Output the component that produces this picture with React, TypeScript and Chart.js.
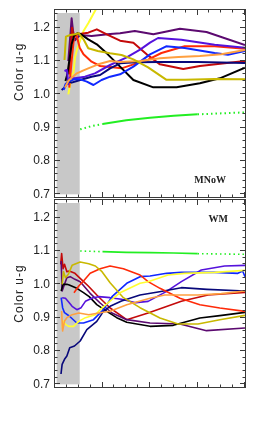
import React, { useEffect, useRef } from "react";
import { Chart, registerables } from "chart.js";

Chart.register(...registerables);

type Pt = [number, number];

// ---------- axes ----------
const X_RANGE: [number, number] = [0, 4];
const Y_RANGE: [number, number] = [0.692, 1.253];
const xMajorTicks = [0, 1, 2, 3, 4];
const xMinorTicks = [0.25, 0.5, 0.75, 1.25, 1.5, 1.75, 2.25, 2.5, 2.75, 3.25, 3.5, 3.75];
const yTickLabels = [0.7, 0.8, 0.9, 1.0, 1.1, 1.2];
const yMinorStep = 0.02;
const yTitle = "Color u-g";
const bandX: [number, number] = [0.035, 0.52];
const bandY: [number, number] = [0.7, 1.244];

// ---------- top panel (MNoW) ----------
const topLabel = "MNoW";
const topPurple: Pt[] = [[0.28,1.10],[0.33,1.19],[0.35,1.228],[0.38,1.19],[0.42,1.162],[0.47,1.17],[0.53,1.178],[0.77,1.175],[1.16,1.181],[1.37,1.183],[1.68,1.19],[2.07,1.18],[2.63,1.197],[3.19,1.187],[4.0,1.148]];
const topDarkRed: Pt[] = [[0.3,1.06],[0.33,1.14],[0.36,1.2],[0.39,1.17],[0.45,1.18],[0.55,1.182],[0.7,1.185],[0.88,1.195],[1.09,1.18],[1.37,1.161],[1.65,1.155],[1.93,1.12],[2.21,1.09],[2.7,1.076],[3.05,1.085],[4.0,1.1]];
const topRed: Pt[] = [[0.3,1.02],[0.35,1.1],[0.4,1.17],[0.45,1.18],[0.52,1.14],[0.6,1.12],[0.77,1.098],[0.95,1.085],[1.16,1.082],[1.4,1.078],[1.7,1.092],[1.96,1.104],[2.24,1.124],[2.73,1.144],[3.36,1.144],[4.0,1.137]];
const topBlack: Pt[] = [[0.22,1.04],[0.26,1.06],[0.3,1.1],[0.35,1.15],[0.4,1.175],[0.47,1.183],[0.55,1.18],[0.7,1.165],[0.88,1.15],[1.09,1.123],[1.37,1.083],[1.65,1.043],[2.07,1.021],[2.56,1.021],[3.05,1.033],[3.47,1.048],[4.0,1.08]];
const topYellow: Pt[] = [[0.28,1.0],[0.32,1.03],[0.35,1.06],[0.39,1.065],[0.42,1.11],[0.46,1.133],[0.5,1.15],[0.6,1.19],[0.7,1.213],[0.88,1.26]];
const topOlive: Pt[] = [[0.2,1.103],[0.23,1.173],[0.32,1.178],[0.42,1.18],[0.5,1.183],[0.6,1.165],[0.7,1.138],[0.9,1.13],[1.16,1.123],[1.4,1.118],[1.65,1.105],[1.96,1.081],[2.34,1.044],[2.73,1.044],[3.36,1.046],[4.0,1.045]];
const topOrange: Pt[] = [[0.21,1.02],[0.28,1.04],[0.35,1.05],[0.46,1.063],[0.6,1.072],[0.7,1.078],[0.91,1.09],[1.16,1.1],[1.37,1.097],[1.8,1.1],[2.21,1.108],[2.6,1.112],[3.05,1.115],[3.5,1.12],[4.0,1.133]];
const topBlueViolet: Pt[] = [[0.2,1.07],[0.25,1.073],[0.28,1.03],[0.32,1.05],[0.42,1.048],[0.63,1.053],[0.84,1.063],[1.16,1.088],[1.5,1.11],[1.8,1.135],[2.0,1.155],[2.17,1.169],[2.66,1.164],[3.36,1.149],[4.0,1.14]];
const topNavy: Pt[] = [[0.14,1.013],[0.2,1.02],[0.28,1.04],[0.35,1.035],[0.53,1.043],[0.77,1.053],[0.95,1.058],[1.16,1.078],[1.37,1.093],[1.7,1.096],[2.2,1.097],[3.0,1.097],[4.0,1.094]];
const topBlue: Pt[] = [[0.18,1.013],[0.22,1.03],[0.28,1.038],[0.4,1.045],[0.53,1.045],[0.67,1.038],[0.81,1.028],[0.98,1.043],[1.16,1.053],[1.37,1.06],[1.65,1.083],[2.0,1.12],[2.34,1.144],[2.73,1.139],[3.36,1.124],[3.64,1.119],[4.0,1.13]];
const topGreen: Pt[] = [[0.53,0.895],[0.75,0.904],[1.0,0.911],[1.5,0.922],[2.0,0.93],[2.5,0.936],[3.0,0.94],[3.5,0.943],[4.0,0.946]];

// ---------- bottom panel (WM) ----------
const botLabel = "WM";
const botBlack: Pt[] = [[0.13,0.98],[0.17,1.0],[0.25,1.0],[0.3,0.998],[0.46,0.988],[0.6,0.975],[0.72,0.963],[0.88,0.939],[1.09,0.919],[1.3,0.9],[1.51,0.886],[2.0,0.874],[2.49,0.877],[3.05,0.899],[3.47,0.906],[4.0,0.916]];
const botNavy: Pt[] = [[0.126,0.731],[0.15,0.76],[0.2,0.775],[0.25,0.785],[0.31,0.81],[0.41,0.815],[0.53,0.83],[0.67,0.864],[0.88,0.889],[1.02,0.919],[1.16,0.934],[1.4,0.95],[1.79,0.968],[2.2,0.978],[2.66,0.99],[3.2,0.985],[4.0,0.98]];
const botBlue: Pt[] = [[0.13,0.96],[0.16,0.93],[0.2,0.915],[0.3,0.905],[0.46,0.884],[0.6,0.884],[0.81,0.894],[1.02,0.924],[1.2,0.963],[1.51,1.003],[1.79,1.023],[2.0,1.025],[2.35,1.033],[2.66,1.036],[3.36,1.036],[3.85,1.033],[3.95,1.04],[4.0,1.023]];
const botBlueViolet: Pt[] = [[0.15,0.96],[0.22,0.958],[0.3,0.945],[0.36,0.934],[0.46,0.924],[0.55,0.93],[0.64,0.949],[0.8,0.96],[0.92,0.963],[1.16,0.96],[1.4,0.955],[1.7,0.945],[1.96,0.949],[2.34,0.978],[2.66,1.008],[3.08,1.043],[3.57,1.055],[4.0,1.057]];
const botPurple: Pt[] = [[0.13,1.07],[0.15,0.98],[0.2,1.0],[0.25,1.02],[0.32,1.023],[0.42,1.015],[0.53,1.008],[0.74,0.973],[0.95,0.944],[1.2,0.914],[1.51,0.894],[2.0,0.884],[2.63,0.881],[3.19,0.861],[4.0,0.869]];
const botDarkRed: Pt[] = [[0.12,1.06],[0.14,1.092],[0.17,1.047],[0.2,1.06],[0.25,1.038],[0.3,1.04],[0.42,1.033],[0.53,1.018],[0.7,0.995],[0.88,0.968],[1.16,0.929],[1.51,0.894],[1.96,0.914],[2.66,0.949],[3.22,0.968],[4.0,0.976]];
const botRed: Pt[] = [[0.4,0.975],[0.5,0.995],[0.6,1.01],[0.74,1.033],[0.95,1.047],[1.16,1.055],[1.44,1.047],[1.79,1.028],[1.96,1.008],[2.21,0.988],[2.63,0.958],[3.05,0.939],[3.47,0.929],[4.0,0.919]];
const botOlive: Pt[] = [[0.15,1.0],[0.18,1.038],[0.22,1.02],[0.28,1.03],[0.36,1.057],[0.53,1.067],[0.71,1.062],[0.85,1.055],[0.99,1.038],[1.16,1.005],[1.44,0.96],[1.79,0.93],[2.21,0.899],[2.59,0.881],[3.01,0.881],[3.47,0.894],[4.0,0.907]];
const botYellow: Pt[] = [[0.15,0.87],[0.17,0.89],[0.22,0.88],[0.29,0.874],[0.39,0.874],[0.5,0.889],[0.64,0.9],[0.85,0.909],[1.0,0.93],[1.2,0.955],[1.37,0.975],[1.79,1.003],[1.96,1.008],[2.38,1.028],[2.73,1.033],[3.36,1.036],[4.0,1.042]];
const botOrange: Pt[] = [[0.14,0.92],[0.16,0.86],[0.2,0.89],[0.25,0.9],[0.36,0.909],[0.5,0.914],[0.71,0.909],[0.92,0.914],[1.16,0.919],[1.51,0.939],[2.0,0.958],[2.31,0.968],[3.0,0.968],[3.5,0.972],[4.0,0.98]];
const botGreen: Pt[] = [[0.53,1.1],[1.0,1.098],[1.5,1.096],[2.0,1.095],[2.5,1.094],[3.0,1.092],[3.5,1.091],[4.0,1.09]];
const greenSolidRange: [number, number] = [1.0, 3.0];

const COLORS = {
  black: "#000000",
  navy: "#08087a",
  blue: "#1028ff",
  blueViolet: "#5512dc",
  purple: "#5c0a70",
  darkRed: "#c40a0a",
  red: "#ff2a08",
  orange: "#ffa040",
  yellow: "#ffff30",
  olive: "#c8b800",
  green: "#22ee22",
};

type Series = { data: Pt[]; color: string; dotted?: boolean };

const topSeries: Series[] = [
  { data: topGreen, color: COLORS.green, dotted: true },
  { data: topOlive, color: COLORS.olive },
  { data: topOrange, color: COLORS.orange },
  { data: topBlue, color: COLORS.blue },
  { data: topNavy, color: COLORS.navy },
  { data: topBlueViolet, color: COLORS.blueViolet },
  { data: topBlack, color: COLORS.black },
  { data: topRed, color: COLORS.red },
  { data: topDarkRed, color: COLORS.darkRed },
  { data: topPurple, color: COLORS.purple },
  { data: topYellow, color: COLORS.yellow },
];

const botSeries: Series[] = [
  { data: botGreen, color: COLORS.green, dotted: true },
  { data: botOrange, color: COLORS.orange },
  { data: botYellow, color: COLORS.yellow },
  { data: botOlive, color: COLORS.olive },
  { data: botRed, color: COLORS.red },
  { data: botNavy, color: COLORS.navy },
  { data: botBlue, color: COLORS.blue },
  { data: botBlueViolet, color: COLORS.blueViolet },
  { data: botBlack, color: COLORS.black },
  { data: botPurple, color: COLORS.purple },
  { data: botDarkRed, color: COLORS.darkRed },
];

const framePlugin = {
  id: "frame",
  beforeDatasetsDraw(chart: any) {
    const { ctx, scales } = chart;
    const x = scales.x, y = scales.y;
    const x0 = x.getPixelForValue(bandX[0]);
    const x1 = x.getPixelForValue(bandX[1]);
    const y0 = y.getPixelForValue(bandY[1]);
    const y1 = y.getPixelForValue(bandY[0]);
    ctx.save();
    ctx.fillStyle = "#c8c8c8";
    ctx.fillRect(x0, y0, x1 - x0, y1 - y0);
    ctx.restore();
  },
  afterDraw(chart: any, _args: any, opts: any) {
    const { ctx, chartArea, scales } = chart;
    const x = scales.x, y = scales.y;
    const { left, right, top, bottom } = chartArea;
    ctx.save();
    ctx.strokeStyle = "#3a3a3a";
    ctx.lineWidth = 1;
    ctx.strokeRect(left - 0.5, top - 0.5, right - left + 1, bottom - top + 1);
    ctx.beginPath();
    const majLen = 5, minLen = 2.5;
    // x ticks (bottom upward, top downward)
    const xt = (v: number, len: number) => {
      const px = Math.round(x.getPixelForValue(v)) - 0.5;
      ctx.moveTo(px, bottom); ctx.lineTo(px, bottom - len);
      ctx.moveTo(px, top); ctx.lineTo(px, top + len);
    };
    xMajorTicks.forEach((v) => xt(v, majLen));
    xMinorTicks.forEach((v) => xt(v, minLen));
    // y ticks (left and right, inward)
    const yt = (v: number, len: number) => {
      const py = Math.round(y.getPixelForValue(v)) - 0.5;
      ctx.moveTo(left, py); ctx.lineTo(left + len, py);
      ctx.moveTo(right, py); ctx.lineTo(right - len, py);
    };
    const kMin = Math.ceil(Y_RANGE[0] / yMinorStep - 1e-6);
    const kMax = Math.floor(Y_RANGE[1] / yMinorStep + 1e-6);
    for (let k = kMin; k <= kMax; k++) {
      const v = k * yMinorStep;
      const isMajor = yTickLabels.some((t) => Math.abs(t - v) < 1e-6);
      yt(v, isMajor ? majLen : minLen);
    }
    ctx.stroke();

    // tick labels
    ctx.fillStyle = "#222";
    ctx.font = '12px "Liberation Sans"';
    ctx.textAlign = "right";
    ctx.textBaseline = "middle";
    yTickLabels.forEach((v) => {
      ctx.fillText(v.toFixed(1), left - 5, y.getPixelForValue(v));
    });

    // axis title
    ctx.save();
    ctx.translate(20, top + (bottom - top) * opts.titleFrac);
    ctx.rotate(-Math.PI / 2);
    ctx.textAlign = "center";
    ctx.textBaseline = "middle";
    ctx.font = '12px "Liberation Sans"';
    (ctx as any).letterSpacing = "1px";
    ctx.fillText(yTitle, 0, 0);
    ctx.restore();

    // panel label
    ctx.font = 'bold 10px "Liberation Serif"';
    ctx.textAlign = "right";
    ctx.textBaseline = "alphabetic";
    if (opts.labelPos === "bottom") {
      ctx.fillText(opts.label, right - 19, bottom - 14.5);
    } else {
      ctx.fillText(opts.label, right - 17, top + 22);
    }
    ctx.restore();
  },
};

function Panel(props: {
  series: Series[];
  top: number;
  height: number;
  padTop: number;
  padBottom: number;
  label: string;
  labelPos: "top" | "bottom";
  titleFrac: number;
  lineWidth: number;
}) {
  const ref = useRef<HTMLCanvasElement>(null);
  useEffect(() => {
    const chart = new Chart(ref.current as HTMLCanvasElement, {
      type: "line",
      data: {
        datasets: props.series.map((s) => ({
          data: s.data.map(([xv, yv]) => ({ x: xv, y: yv })),
          borderColor: s.color,
          borderWidth: props.lineWidth,
          pointRadius: 0,
          fill: false,
          tension: 0,
          clip: 0,
          borderJoinStyle: "round",
          segment: s.dotted
            ? {
                borderDash: (c: any) =>
                  c.p0.parsed.x < greenSolidRange[0] - 1e-6 || c.p0.parsed.x >= greenSolidRange[1] - 1e-6
                    ? [1.5, 3]
                    : undefined,
              }
            : undefined,
        })) as any,
      },
      options: {
        animation: false,
        responsive: false,
        maintainAspectRatio: false,
        events: [],
        layout: { padding: { left: 55, right: 13, top: props.padTop, bottom: props.padBottom } },
        scales: {
          x: { type: "linear", min: X_RANGE[0], max: X_RANGE[1], display: false },
          y: { type: "linear", min: Y_RANGE[0], max: Y_RANGE[1], display: false },
        },
        plugins: {
          legend: { display: false },
          tooltip: { enabled: false },
          frame: { label: props.label, labelPos: props.labelPos, titleFrac: props.titleFrac },
        } as any,
      },
      plugins: [framePlugin],
    });
    return () => chart.destroy();
  }, []);
  return (
    <canvas
      ref={ref}
      width={258}
      height={props.height}
      style={{ position: "absolute", left: 0, top: props.top, display: "block" }}
    />
  );
}

export default function App() {
  return (
    <div style={{ position: "absolute", left: 0, top: 0, width: 258, height: 422, background: "#fff" }}>
      <Panel series={topSeries} top={0} height={200} padTop={10} padBottom={3} label={topLabel} labelPos="bottom" titleFrac={0.33} lineWidth={2} />
      <Panel series={botSeries} top={198} height={224} padTop={2} padBottom={35} label={botLabel} labelPos="top" titleFrac={0.5} lineWidth={1.6} />
    </div>
  );
}
